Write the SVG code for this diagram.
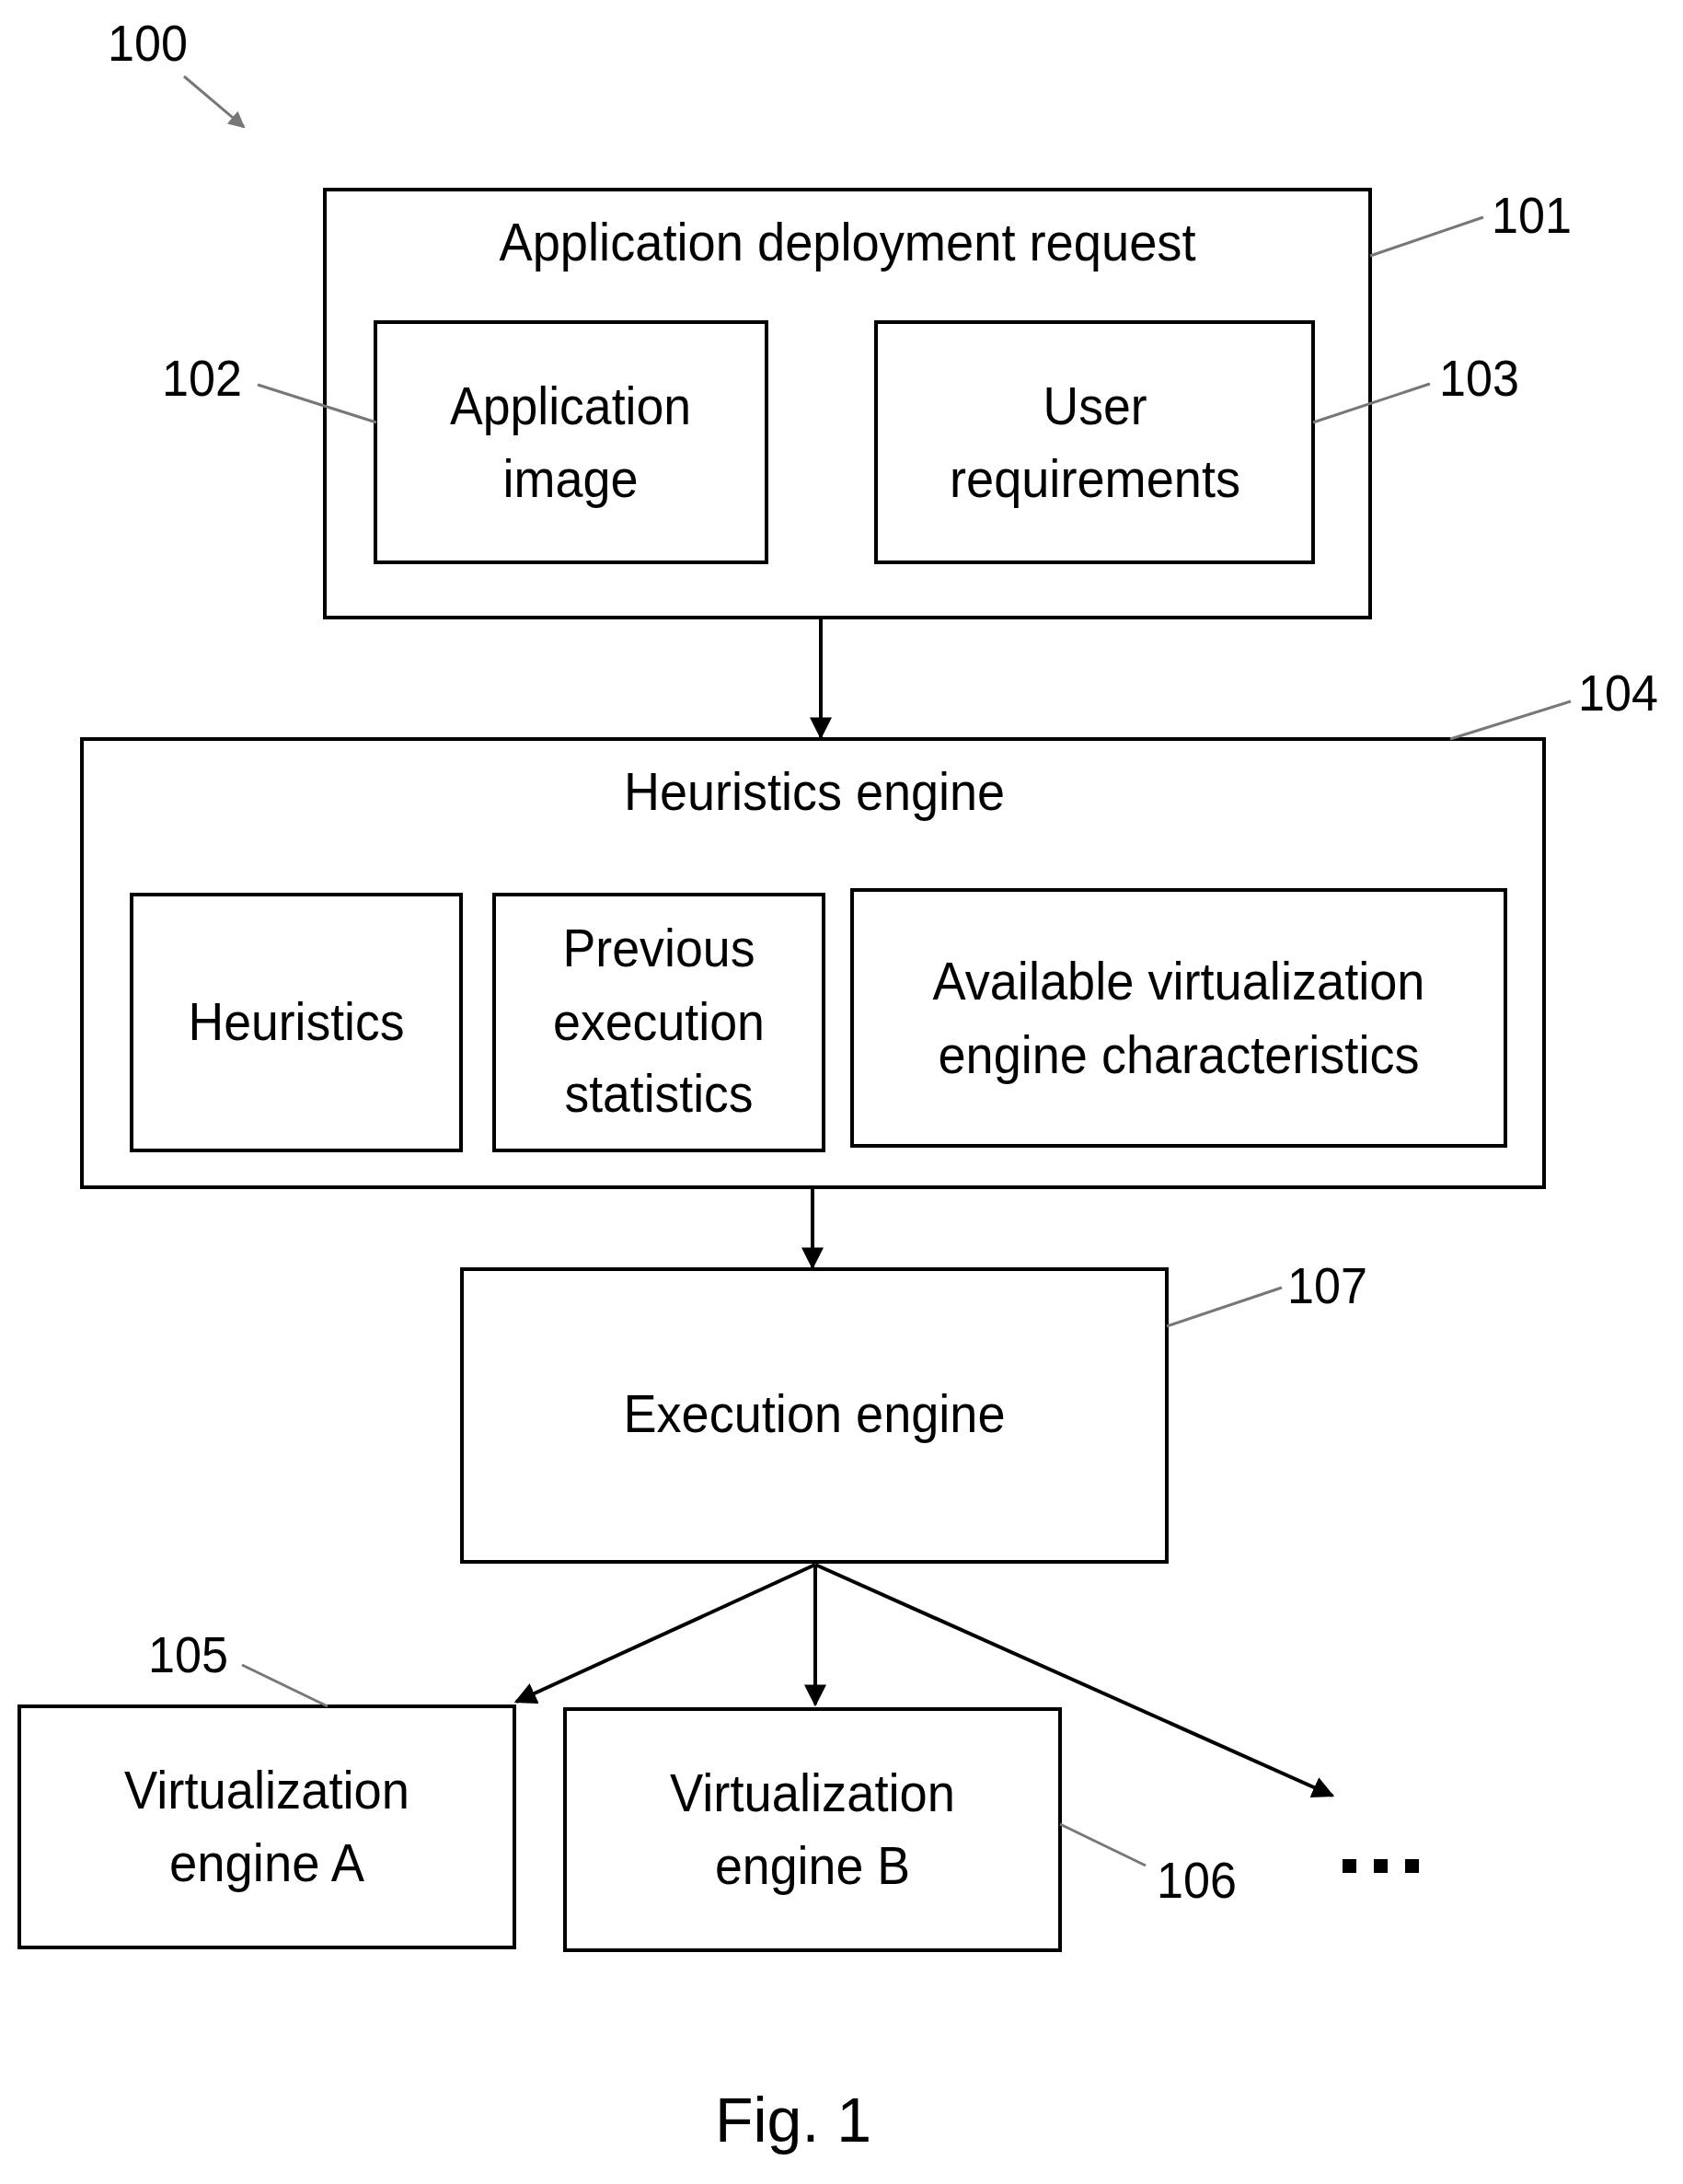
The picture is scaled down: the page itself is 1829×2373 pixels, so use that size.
<svg xmlns="http://www.w3.org/2000/svg" width="1829" height="2373" viewBox="0 0 1829 2373">
<style>
.b{fill:#fff;stroke:#000;stroke-width:4}
.t{font-family:"Liberation Sans",Arial,sans-serif;font-size:58px;text-anchor:middle;fill:#000}
.n{font-family:"Liberation Sans",Arial,sans-serif;font-size:56px;fill:#000}
.l{stroke:#777;stroke-width:3;fill:none}
.c{stroke:#000;stroke-width:4;fill:none;marker-end:url(#a)}
</style>
<defs>
<marker id="a" viewBox="0 0 10 10" refX="9" refY="5" markerWidth="6" markerHeight="6" orient="auto" markerUnits="strokeWidth"><path d="M0,0L10,5L0,10z" fill="#000"/></marker>
<marker id="g" viewBox="0 0 10 10" refX="9" refY="5" markerWidth="6" markerHeight="6" orient="auto" markerUnits="strokeWidth"><path d="M0,0L10,5L0,10z" fill="#777"/></marker>
</defs>
<rect width="1829" height="2373" fill="#fff"/>
<g id="label100"><text class="n" x="117" y="66" textLength="87" lengthAdjust="spacingAndGlyphs">100</text><line x1="200" y1="83" x2="265" y2="138" stroke="#777" stroke-width="3" marker-end="url(#g)"/></g>
<g id="n101"><rect class="b" x="353" y="206" width="1136" height="465"/><text class="t" x="921" y="283" textLength="757" lengthAdjust="spacingAndGlyphs">Application deployment request</text>
<line class="l" x1="1489" y1="278" x2="1612" y2="236"/><text class="n" x="1621" y="253" textLength="87" lengthAdjust="spacingAndGlyphs">101</text></g>
<g id="n102"><rect class="b" x="408" y="350" width="425" height="261"/><text class="t" x="620" y="461" textLength="262" lengthAdjust="spacingAndGlyphs">Application</text><text class="t" x="620" y="540" textLength="147" lengthAdjust="spacingAndGlyphs">image</text>
<line class="l" x1="280" y1="418" x2="409" y2="459"/><text class="n" x="176" y="430" textLength="87" lengthAdjust="spacingAndGlyphs">102</text></g>
<g id="n103"><rect class="b" x="952" y="350" width="475" height="261"/><text class="t" x="1190" y="461" textLength="113" lengthAdjust="spacingAndGlyphs">User</text><text class="t" x="1190" y="540" textLength="316" lengthAdjust="spacingAndGlyphs">requirements</text>
<line class="l" x1="1427" y1="459" x2="1554" y2="417"/><text class="n" x="1564" y="430" textLength="87" lengthAdjust="spacingAndGlyphs">103</text></g>
<g id="n104"><rect class="b" x="89" y="803" width="1589" height="487"/><text class="t" x="885" y="880" textLength="414" lengthAdjust="spacingAndGlyphs">Heuristics engine</text>
<line class="l" x1="1576" y1="803" x2="1707" y2="762"/><text class="n" x="1715" y="772" textLength="87" lengthAdjust="spacingAndGlyphs">104</text></g>
<g id="heuristics"><rect class="b" x="143" y="972" width="358" height="278"/><text class="t" x="322" y="1130" textLength="235" lengthAdjust="spacingAndGlyphs">Heuristics</text></g>
<g id="previous"><rect class="b" x="537" y="972" width="358" height="278"/><text class="t" x="716" y="1050" textLength="209" lengthAdjust="spacingAndGlyphs">Previous</text><text class="t" x="716" y="1130" textLength="230" lengthAdjust="spacingAndGlyphs">execution</text><text class="t" x="716" y="1208" textLength="205" lengthAdjust="spacingAndGlyphs">statistics</text></g>
<g id="available"><rect class="b" x="926" y="967" width="710" height="278"/><text class="t" x="1281" y="1086" textLength="535" lengthAdjust="spacingAndGlyphs">Available virtualization</text><text class="t" x="1281" y="1166" textLength="523" lengthAdjust="spacingAndGlyphs">engine characteristics</text></g>
<g id="n107"><rect class="b" x="502" y="1379" width="766" height="318"/><text class="t" x="885" y="1556" textLength="415" lengthAdjust="spacingAndGlyphs">Execution engine</text>
<line class="l" x1="1268" y1="1441" x2="1393" y2="1399"/><text class="n" x="1399" y="1416" textLength="87" lengthAdjust="spacingAndGlyphs">107</text></g>
<g id="n105"><rect class="b" x="21" y="1854" width="538" height="262"/><text class="t" x="290" y="1965" textLength="310" lengthAdjust="spacingAndGlyphs">Virtualization</text><text class="t" x="290" y="2044" textLength="212" lengthAdjust="spacingAndGlyphs">engine A</text>
<line class="l" x1="263" y1="1809" x2="356" y2="1854"/><text class="n" x="161" y="1817" textLength="87" lengthAdjust="spacingAndGlyphs">105</text></g>
<g id="n106"><rect class="b" x="614" y="1857" width="538" height="262"/><text class="t" x="883" y="1968" textLength="310" lengthAdjust="spacingAndGlyphs">Virtualization</text><text class="t" x="883" y="2047" textLength="212" lengthAdjust="spacingAndGlyphs">engine B</text>
<line class="l" x1="1152" y1="1982" x2="1245" y2="2027"/><text class="n" x="1257" y="2062" textLength="87" lengthAdjust="spacingAndGlyphs">106</text></g>
<g id="more"><rect x="1459" y="2020" width="15" height="15"/><rect x="1493" y="2020" width="15" height="15"/><rect x="1527" y="2020" width="15" height="15"/></g>
<g id="connectors">
<line class="c" x1="892" y1="671" x2="892" y2="801"/>
<line class="c" x1="883" y1="1290" x2="883" y2="1377"/>
<line class="c" x1="886" y1="1700" x2="561" y2="1849"/>
<line class="c" x1="886" y1="1700" x2="886" y2="1852"/>
<line class="c" x1="886" y1="1700" x2="1448" y2="1951"/>
</g>
<text x="862" y="2327" font-family="Liberation Sans,Arial,sans-serif" font-size="68" text-anchor="middle">Fig. 1</text>
</svg>
